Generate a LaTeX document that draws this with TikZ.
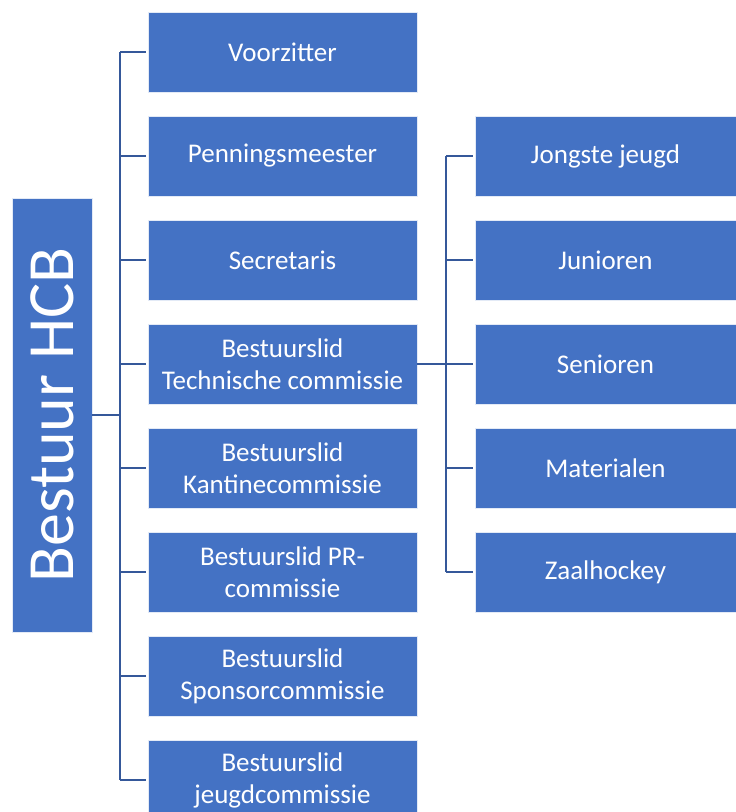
\documentclass[tikz,border=0pt]{standalone}
\usepackage{fontspec}
\setmainfont{Carlito}
\begin{document}
\begin{tikzpicture}[x=1pt,y=-1pt,
  box/.style={fill=boxblue,draw=white!85!boxblue,line width=0.8pt,inner sep=0pt,
    minimum width=269pt,minimum height=80pt,text=white,align=center,
    font=\fontsize{27}{32}\selectfont},
  conn/.style={draw=lineblue,line width=2pt}]
\definecolor{boxblue}{HTML}{4472C4}
\definecolor{lineblue}{HTML}{35589A}
\clip (0,0) rectangle (736,812);
\fill[white] (0,0) rectangle (736,812);
\node[box,minimum width=80pt,minimum height=434pt,font=\fontsize{66}{72}\selectfont] (root) at (52,415) {\rotatebox{90}{Bestuur HCB}};
\node[box] (b1) at (282.5,52) {Voorzitter};
\node[box] (b2) at (282.5,156) {Penningsmeester};
\node[box] (b3) at (282.5,260) {Secretaris};
\node[box] (b4) at (282.5,364) {Bestuurslid\\Technische commissie};
\node[box] (b5) at (282.5,468) {Bestuurslid\\Kantinecommissie};
\node[box] (b6) at (282.5,572) {Bestuurslid PR-\\commissie};
\node[box] (b7) at (282.5,676) {Bestuurslid\\Sponsorcommissie};
\node[box] (b8) at (282.5,780) {Bestuurslid\\jeugdcommissie};
\node[box] (r1) at (609.5,156) {\hspace*{-8pt}Jongste jeugd};
\node[box] (r2) at (609.5,260) {\hspace*{-8pt}Junioren};
\node[box] (r3) at (609.5,364) {\hspace*{-8pt}Senioren};
\node[box] (r4) at (609.5,468) {\hspace*{-8pt}Materialen};
\node[box] (r5) at (609.5,572) {\hspace*{-8pt}Zaalhockey};
\coordinate (lt) at (120,52);
\coordinate (lb) at (120,780);
\coordinate (lm) at (120,415);
\coordinate (rt) at (446,156);
\coordinate (rb) at (446,572);
\coordinate (rm) at (446,364);
\draw[conn] (root.east |- lm) -- (lm);
\draw[conn] (lt) -- (lb);
\foreach \n in {b1,b2,b3,b4,b5,b6,b7,b8}{
  \draw[conn] (lt |- \n.west) -- ([xshift=-1.5pt]\n.west);
}
\draw[conn] (b4.east) -- (rm);
\draw[conn] (rt) -- (rb);
\foreach \n in {r1,r2,r3,r4,r5}{
  \draw[conn] (rt |- \n.west) -- ([xshift=-1.5pt]\n.west);
}
\end{tikzpicture}
\end{document}
